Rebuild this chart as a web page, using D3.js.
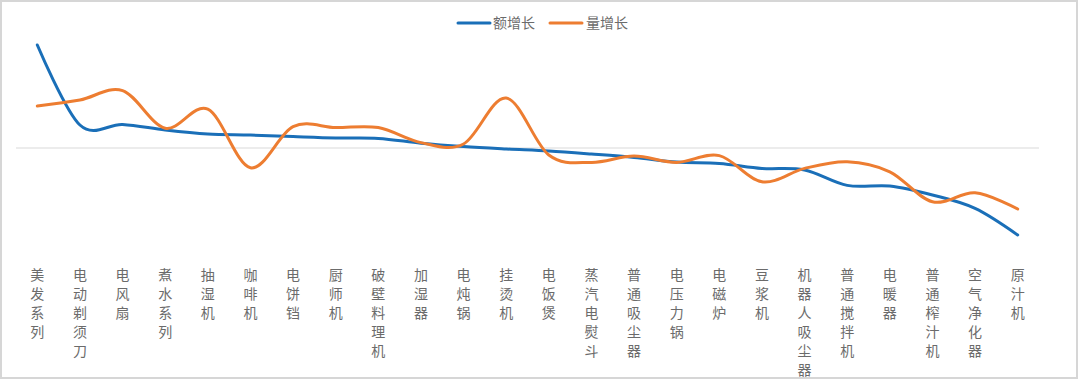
<!DOCTYPE html>
<html>
<head>
<meta charset="utf-8">
<script src="https://cdn.jsdelivr.net/npm/d3@7"></script>
<style>
  html, body { margin: 0; padding: 0; background: #ffffff; }
  svg { display: block; }
  text { font-family: "Noto Sans CJK SC", "Noto Sans", sans-serif; }
</style>
</head>
<body>
<svg id="chart" width="1080" height="380"></svg>
<script>
const categories = ["美发系列","电动剃须刀","电风扇","煮水系列","抽湿机","咖啡机","电饼铛","厨师机","破壁料理机","加湿器","电炖锅","挂烫机","电饭煲","蒸汽电熨斗","普通吸尘器","电压力锅","电磁炉","豆浆机","机器人吸尘器","普通搅拌机","电暖器","普通榨汁机","空气净化器","原汁机"];
const amountGrowth = [51.5, 11.5, 11.8, 9, 7, 6.5, 5.7, 5, 4.8, 2.4, 0.7, -0.5, -1.5, -3, -4.7, -7, -7.7, -10.2, -11, -18.7, -19, -23.5, -30.2, -43.5];
const volumeGrowth = [21, 24, 28.7, 9.9, 19.4, -9.9, 10.7, 10.2, 10.2, 2.7, 2, 25, -3.5, -7.2, -4, -7.2, -3.8, -16.9, -10.2, -6.9, -11.9, -26.9, -22.4, -30.5];
const seriesNames = ["额增长", "量增长"];
const seriesColors = ["#1a6fb8", "#ed7d31"];

const svg = d3.select("#chart");

// outer frame
svg.append("rect")
  .attr("x", 1).attr("y", 1).attr("width", 1076).attr("height", 377)
  .attr("fill", "#ffffff").attr("stroke", "#d6d6d6").attr("stroke-width", 2);

const plotLeft = 16, plotRight = 1039;
const x = d3.scaleBand().domain(categories).range([plotLeft, plotRight]);
const cx = d => x(d) + x.bandwidth() / 2;
const y = d3.scaleLinear().domain([-50, 60]).range([248, 28]);

// zero line
svg.append("line")
  .attr("x1", plotLeft).attr("x2", plotRight)
  .attr("y1", y(0)).attr("y2", y(0))
  .attr("stroke", "#d9d9d9").attr("stroke-width", 1);

// category labels (vertical stacked characters)
const labels = svg.append("g");
categories.forEach(c => {
  const t = labels.append("text")
    .attr("x", cx(c))
    .attr("y", 280)
    .attr("text-anchor", "middle")
    .attr("font-size", 14)
    .attr("fill", "#6b6b6b");
  Array.from(c).forEach((ch, i) => {
    t.append("tspan").attr("x", cx(c)).attr("dy", i === 0 ? 0 : 19).text(ch);
  });
});

const line = d3.line()
  .x((d, i) => cx(categories[i]))
  .y(d => y(d))
  .curve(d3.curveCardinal.tension(0));

[amountGrowth, volumeGrowth].forEach((s, k) => {
  svg.append("path")
    .datum(s)
    .attr("d", line)
    .attr("fill", "none")
    .attr("stroke", seriesColors[k])
    .attr("stroke-width", 3)
    .attr("stroke-linecap", "round")
    .attr("stroke-linejoin", "round");
});

// legend
const legendItems = [{x: 458, tx: 493}, {x: 550, tx: 586}];
seriesNames.forEach((n, k) => {
  const g = svg.append("g");
  g.append("line")
    .attr("x1", legendItems[k].x).attr("x2", legendItems[k].x + 32)
    .attr("y1", 23).attr("y2", 23)
    .attr("stroke", seriesColors[k]).attr("stroke-width", 3).attr("stroke-linecap", "round");
  g.append("text")
    .attr("x", legendItems[k].tx).attr("y", 28)
    .attr("font-size", 14).attr("fill", "#6b6b6b")
    .text(n);
});
</script>
</body>
</html>
